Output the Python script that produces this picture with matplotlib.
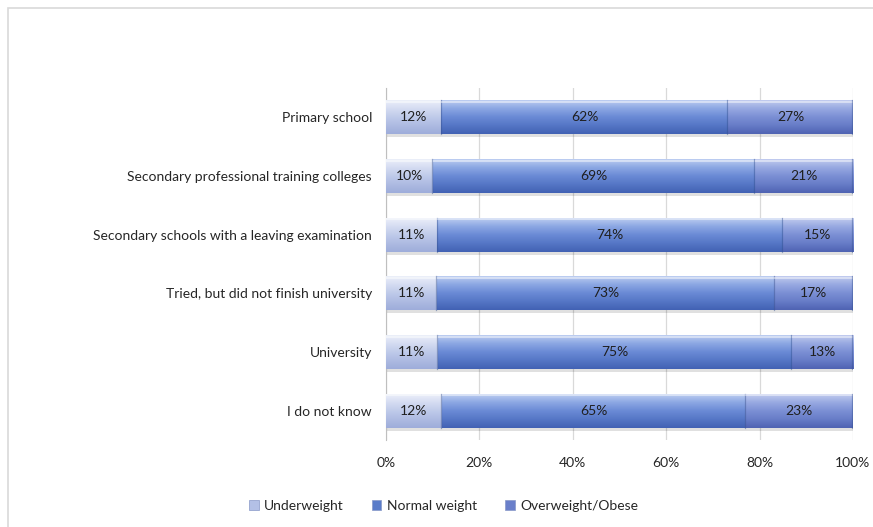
import numpy as np
import matplotlib
matplotlib.use("Agg")
import matplotlib.pyplot as plt
from matplotlib.patches import Rectangle, Patch
from matplotlib.colors import LinearSegmentedColormap

categories = [
    "Primary school",
    "Secondary professional training colleges",
    "Secondary schools with a leaving examination",
    "Tried, but did not finish university",
    "University",
    "I do not know",
]
underweight = [12, 10, 11, 11, 11, 12]
normal_weight = [62, 69, 74, 73, 75, 65]
overweight = [27, 21, 15, 17, 13, 23]
series_names = ["Underweight", "Normal weight", "Overweight/Obese"]
tick_labels = ["0%", "20%", "40%", "60%", "80%", "100%"]

# vertical gradient stops (top -> bottom) for each series
gradients = [
    ["#eef1fa", "#d6ddf2", "#c0cbea", "#aebbe2", "#9eadda"],
    ["#c2d1f2", "#8ea9e4", "#6b8bd6", "#5677c6", "#4262b4"],
    ["#c6cff0", "#9aabe2", "#7c90d5", "#687dc8", "#4f63b3"],
]
legend_colors = ["#b3c0e6", "#5a7cc9", "#6a7fca"]

plt.rcParams["font.family"] = ["Lato", "DejaVu Sans"]
text_color = "#262626"

fig = plt.figure(figsize=(8.73, 5.27), dpi=100)
ax = fig.add_axes([0.442, 0.165, 0.535, 0.668])

# chart frame
frame = Rectangle((0.009, -0.01), 1.2, 0.995, transform=fig.transFigure,
                  fill=False, edgecolor="#d9d9d9", linewidth=1.2)
fig.patches.append(frame)

bar_h = 0.58
y = np.arange(len(categories))
series = [underweight, normal_weight, overweight]
totals = np.sum(series, axis=0)

ax.set_xlim(0, 100)
ax.set_ylim(len(categories) - 0.5, -0.5)

left = np.zeros(len(categories))
for s_idx, vals in enumerate(series):
    cmap = LinearSegmentedColormap.from_list(f"g{s_idx}", gradients[s_idx])
    grad = np.linspace(0, 1, 64).reshape(-1, 1)
    for i, v in enumerate(vals):
        w = v / totals[i] * 100  # share of the 100% bar
        x0 = left[i]
        # soft shadow beneath each segment
        sh = Rectangle((x0 + 0.3, y[i] - bar_h / 2 + 0.05), w, bar_h,
                       facecolor="#000000", alpha=0.12, edgecolor="none", zorder=2)
        ax.add_patch(sh)
        rect = Rectangle((x0, y[i] - bar_h / 2), w, bar_h,
                         facecolor="none", edgecolor="none", zorder=3)
        ax.add_patch(rect)
        im = ax.imshow(grad, cmap=cmap, aspect="auto",
                       extent=(x0, x0 + w, y[i] + bar_h / 2, y[i] - bar_h / 2),
                       zorder=3, interpolation="bicubic")
        im.set_clip_path(rect)
        # bevel highlights
        ax.plot([x0, x0 + w], [y[i] - bar_h / 2 + 0.03] * 2, color="white",
                alpha=0.55, lw=1.2, zorder=4, solid_capstyle="butt")
        ax.plot([x0 + w - 0.15, x0 + w - 0.15], [y[i] - bar_h / 2, y[i] + bar_h / 2],
                color="#34508f", alpha=0.45, lw=0.9, zorder=4)
        ax.text(x0 + w / 2, y[i], f"{v}%", ha="center", va="center",
                fontsize=10, color="#1f1f1f", zorder=5)
        left[i] += w

ax.set_xticks(np.arange(0, 101, 20))
ax.set_xticklabels(tick_labels, fontsize=10, color=text_color)
ax.set_yticks(y)
ax.set_yticklabels(categories, fontsize=10, color=text_color)
ax.tick_params(axis="x", length=0, pad=12)
ax.tick_params(axis="y", length=0, pad=10)
ax.grid(axis="x", color="#d9d9d9", linewidth=0.9)
ax.set_axisbelow(True)
for side in ["top", "right", "bottom"]:
    ax.spines[side].set_visible(False)
ax.spines["left"].set_color("#bfbfbf")

handles = [Patch(facecolor=c, edgecolor="#8898c8", linewidth=0.5) for c in legend_colors]
fig.legend(handles, series_names, loc="center", bbox_to_anchor=(0.508, 0.04),
           ncol=3, frameon=False, fontsize=10, handlelength=0.7, handleheight=0.7,
           handletextpad=0.4, columnspacing=2.0, labelcolor=text_color)

fig.savefig("out.png", dpi=100, facecolor="white")
